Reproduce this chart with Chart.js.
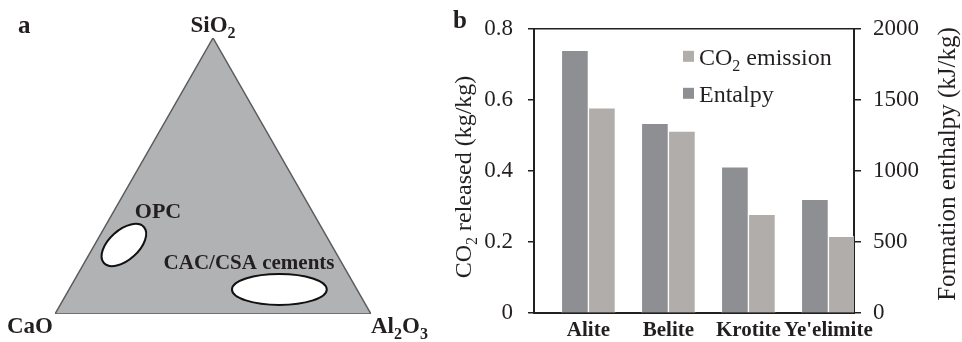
<!DOCTYPE html>
<html>
<head>
<meta charset="utf-8">
<title>Clinker phases</title>
<script src="https://cdn.jsdelivr.net/npm/chart.js@4.4.1/dist/chart.umd.min.js"></script>
<style>
  html, body { margin: 0; padding: 0; background: #fff; }
  #wrap { position: relative; width: 962px; height: 342px; overflow: hidden; }
  #ternary { position: absolute; left: 0; top: 0; }
  #bars { position: absolute; left: 440px; top: 0; }
</style>
</head>
<body>
<div id="wrap">
  <canvas id="ternary" width="440" height="342"></canvas>
  <canvas id="bars" width="522" height="342"></canvas>
</div>
<script>
// panel a: CaO - SiO2 - Al2O3 diagram (x along the base, y towards SiO2)
const triangleX = [0, 0.5, 1, 0];
const triangleY = [0, 1, 0, 0];
const vertexLabels = ["CaO", "SiO_2", "Al_2O_3"];
const vertexX = [0, 0.5, 1];
const vertexY = [0, 1, 0];

const regionLabels = ["OPC", "CAC/CSA cements"];
const regionX = [0.218, 0.710];
const regionY = [0.25, 0.089];
const regionRadiusA = [0.085, 0.150];
const regionRadiusB = [0.047, 0.049];
const regionAngle = [-42, 0];
const regionLabelX = [0.326, 0.614];
const regionLabelY = [0.377, 0.188];

// panel b: CO2 released and formation enthalpy per clinker phase
const categories = ["Alite", "Belite", "Krotite", "Ye'elimite"];
const co2Released = [0.578, 0.512, 0.278, 0.216];
const formationEnthalpy = [1848, 1336, 1030, 800];
const co2Ticks = [0, 0.2, 0.4, 0.6, 0.8];
const enthalpyTicks = [0, 500, 1000, 1500, 2000];

const serif = '"Liberation Serif", "Times New Roman", serif';
const ink = "#231f20";
const darkBar = "#8e8f93";
const lightBar = "#b1adab";

// text with "_2" style subscripts
function drawRich(ctx, str, x, y, size, bold, align) {
  const parts = str.split(/_(\d)/);
  const weight = bold ? "bold " : "";
  const subSize = Math.round(size * 0.68);
  let total = 0;
  parts.forEach((p, i) => {
    ctx.font = weight + (i % 2 ? subSize : size) + "px " + serif;
    total += ctx.measureText(p).width;
  });
  let cx = x;
  if (align === "center") cx = x - total / 2;
  if (align === "right") cx = x - total;
  ctx.textAlign = "left";
  ctx.textBaseline = "alphabetic";
  parts.forEach((p, i) => {
    ctx.font = weight + (i % 2 ? subSize : size) + "px " + serif;
    ctx.fillText(p, cx, i % 2 ? y + size * 0.24 : y);
    cx += ctx.measureText(p).width;
  });
}

const ternaryDecor = {
  id: "ternaryDecor",
  afterDatasetsDraw(chart) {
    const ctx = chart.ctx;
    const xs = chart.scales.x, ys = chart.scales.y;
    const unit = xs.getPixelForValue(1) - xs.getPixelForValue(0);
    ctx.save();
    regionLabels.forEach((name, i) => {
      ctx.beginPath();
      ctx.ellipse(xs.getPixelForValue(regionX[i]), ys.getPixelForValue(regionY[i]),
        regionRadiusA[i] * unit, regionRadiusB[i] * unit, regionAngle[i] * Math.PI / 180, 0, Math.PI * 2);
      ctx.fillStyle = "#fff";
      ctx.fill();
      ctx.lineWidth = 2;
      ctx.strokeStyle = "#111";
      ctx.stroke();
    });
    ctx.fillStyle = ink;
    drawRich(ctx, regionLabels[0], xs.getPixelForValue(regionLabelX[0]), ys.getPixelForValue(regionLabelY[0]) + 8, 22, true, "center");
    drawRich(ctx, regionLabels[1], xs.getPixelForValue(regionLabelX[1]), ys.getPixelForValue(regionLabelY[1]) + 7, 21, true, "center");

    const vx = vertexX.map(v => xs.getPixelForValue(v));
    const vy = vertexY.map(v => ys.getPixelForValue(v));
    drawRich(ctx, vertexLabels[0], vx[0] - 2, vy[0] + 19, 23, true, "right");
    drawRich(ctx, vertexLabels[1], vx[1], vy[1] - 6, 23, true, "center");
    drawRich(ctx, vertexLabels[2], vx[2], vy[2] + 19, 23, true, "left");
    drawRich(ctx, "a", 18, 33, 25, true, "left");
    ctx.restore();
  }
};

const trianglePoints = triangleX.map((x, i) => ({ x: x, y: triangleY[i] }));

new Chart(document.getElementById("ternary"), {
  type: "line",
  data: {
    datasets: [
      {
        // outline, closed back to CaO
        data: trianglePoints,
        fill: false,
        borderColor: "#5c5c5e",
        borderWidth: 1.5,
        pointRadius: 0,
        tension: 0
      },
      {
        // grey body: the two upper sides filled down to the base
        data: trianglePoints.slice(0, 3),
        fill: "origin",
        backgroundColor: "#b1b2b4",
        borderWidth: 0,
        pointRadius: 0,
        tension: 0
      }
    ]
  },
  options: {
    responsive: false,
    animation: false,
    devicePixelRatio: 1,
    layout: { padding: { left: 55, right: 69, top: 38, bottom: 28 } },
    plugins: { legend: { display: false }, tooltip: { enabled: false } },
    scales: {
      x: { type: "linear", min: 0, max: 1, display: false },
      y: { type: "linear", min: 0, max: 1, display: false }
    }
  },
  plugins: [ternaryDecor]
});

const barDecor = {
  id: "barDecor",
  afterDraw(chart) {
    const ctx = chart.ctx;
    const area = chart.chartArea;
    ctx.save();
    ctx.fillStyle = ink;
    // axis titles
    ctx.save();
    ctx.translate(31, 177);
    ctx.rotate(-Math.PI / 2);
    drawRich(ctx, "CO_2 released (kg/kg)", 0, 0, 24, false, "center");
    ctx.restore();
    ctx.save();
    ctx.translate(515, 164);
    ctx.rotate(-Math.PI / 2);
    drawRich(ctx, "Formation enthalpy (kJ/kg)", 0, 0, 25, false, "center");
    ctx.restore();

    // legend, CO2 first
    const lx = area.left + 149;
    const entries = [["CO_2 emission", lightBar], ["Entalpy", darkBar]];
    entries.forEach((e, i) => {
      const top = area.top + 22 + i * 37;
      ctx.fillStyle = e[1];
      ctx.fillRect(lx, top, 11, 11);
      ctx.fillStyle = ink;
      drawRich(ctx, e[0], lx + 16, top + 14, 24, false, "left");
    });
    drawRich(ctx, "b", 13, 28, 25, true, "left");
    ctx.restore();
  }
};

const tickFont = { family: serif, size: 23 };

new Chart(document.getElementById("bars"), {
  type: "bar",
  data: {
    datasets: [
      {
        label: "Entalpy",
        data: categories.map((c, i) => ({ x: i, y: formationEnthalpy[i] })),
        yAxisID: "y1",
        backgroundColor: darkBar
      },
      {
        label: "CO2 emission",
        data: categories.map((c, i) => ({ x: i, y: co2Released[i] })),
        yAxisID: "y",
        backgroundColor: lightBar
      }
    ]
  },
  options: {
    responsive: false,
    animation: false,
    devicePixelRatio: 1,
    layout: { padding: { left: 0, right: 0, top: 26, bottom: 0 } },
    datasets: {
      bar: {
        barThickness: 27,
        borderWidth: 1,
        borderColor: "rgba(255,255,255,0.65)",
        borderSkipped: "bottom"
      }
    },
    plugins: { legend: { display: false }, tooltip: { enabled: false } },
    scales: {
      x: {
        type: "linear",
        min: -0.68,
        max: 3.32,
        offset: false,
        afterBuildTicks: s => { s.ticks = categories.map((c, i) => ({ value: i })); },
        afterFit: s => { s.height = 24; },
        grid: { display: false, drawTicks: false },
        border: { display: true, color: ink, width: 2 },
        ticks: {
          callback: v => categories[v],
          font: { family: serif, size: 21, weight: "bold" },
          color: ink,
          padding: 5,
          maxRotation: 0,
          autoSkip: false
        }
      },
      y: {
        position: "left",
        min: 0,
        max: 0.8,
        afterBuildTicks: s => { s.ticks = co2Ticks.map(v => ({ value: v })); },
        afterFit: s => { s.width = 94; },
        border: { color: ink, width: 2 },
        grid: {
          drawOnChartArea: true,
          color: c => (c.tick && c.tick.value === 0.8 ? ink : "rgba(0,0,0,0)"),
          tickColor: ink,
          tickLength: 6,
          lineWidth: 1.5
        },
        ticks: { callback: v => (v === 0 ? "0" : String(v)), font: tickFont, color: ink, padding: 15 }
      },
      y1: {
        position: "right",
        min: 0,
        max: 2000,
        afterBuildTicks: s => { s.ticks = enthalpyTicks.map(v => ({ value: v })); },
        afterFit: s => { s.width = 108; },
        border: { color: ink, width: 2 },
        grid: { drawOnChartArea: false, tickColor: ink, tickLength: 7, lineWidth: 1.5 },
        ticks: { callback: v => String(v), font: tickFont, color: ink, padding: 12 }
      }
    }
  },
  plugins: [barDecor]
});
</script>
</body>
</html>
